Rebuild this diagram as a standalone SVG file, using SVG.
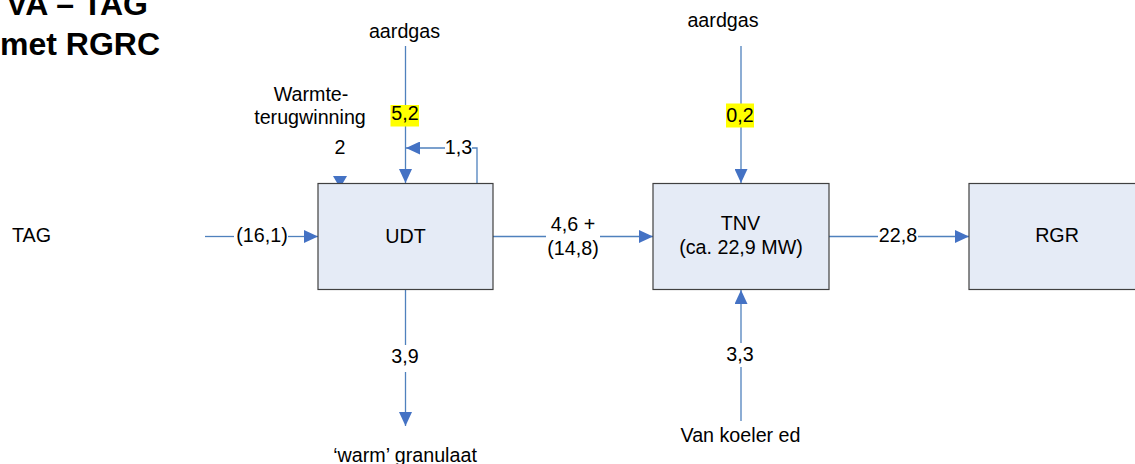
<svg xmlns="http://www.w3.org/2000/svg" width="1135" height="464" viewBox="0 0 1135 464">
<style>
text{font-family:"Liberation Sans",Arial,sans-serif;font-size:19.7px;fill:#000}
.t{font-size:32px;font-weight:bold}
.m{text-anchor:middle}
.box{fill:#E5EBF6;stroke:#404040;stroke-width:1.2}
.c{stroke:#4F81BD;stroke-width:1.3;fill:none}
.hl{fill:#FFFF00}
</style>
<defs>
<marker id="ah" markerUnits="userSpaceOnUse" markerWidth="14" markerHeight="13" refX="14" refY="6.5" orient="auto">
<path d="M0,0 L14,6.5 L0,13 z" fill="#4472C4"/>
</marker>
</defs>
<g id="title">
<text class="t" x="148" y="15" text-anchor="end">VA – TAG</text>
<text class="t" x="160" y="55" text-anchor="end">met RGRC</text>
</g>
<g id="connectors">
<line class="c" x1="205" y1="236.5" x2="234" y2="236.5"/>
<line class="c" x1="288" y1="236.5" x2="318" y2="236.5" marker-end="url(#ah)"/>
<line class="c" x1="493" y1="236.5" x2="546" y2="236.5"/>
<line class="c" x1="600" y1="236.5" x2="653" y2="236.5" marker-end="url(#ah)"/>
<line class="c" x1="829" y1="236.5" x2="878" y2="236.5"/>
<line class="c" x1="918" y1="236.5" x2="969" y2="236.5" marker-end="url(#ah)"/>
<line class="c" x1="405.5" y1="46" x2="405.5" y2="183" marker-end="url(#ah)"/>
<polyline class="c" points="477,183 477,148 472,148"/>
<line class="c" x1="445" y1="148" x2="406" y2="148" marker-end="url(#ah)"/>
<path d="M333,176 L347,176 L340,188 z" fill="#4472C4"/>
<line class="c" x1="741" y1="46" x2="741" y2="183" marker-end="url(#ah)"/>
<line class="c" x1="405.5" y1="290" x2="405.5" y2="345"/>
<line class="c" x1="405.5" y1="372" x2="405.5" y2="426" marker-end="url(#ah)"/>
<line class="c" x1="741" y1="421" x2="741" y2="367"/>
<line class="c" x1="741" y1="343" x2="741" y2="290" marker-end="url(#ah)"/>
<rect class="hl" x="390.5" y="105" width="28.5" height="21.5"/>
<rect class="hl" x="726" y="103.5" width="28" height="24"/>
<text class="m" x="262" y="242">(16,1)</text>
<text class="m" x="573" y="231">4,6 +</text>
<text class="m" x="573" y="255">(14,8)</text>
<text class="m" x="898" y="242">22,8</text>
<text class="m" x="405" y="120">5,2</text>
<text class="m" x="740" y="122">0,2</text>
<text class="m" x="458.5" y="153.5">1,3</text>
<text class="m" x="340" y="154">2</text>
<text class="m" x="405" y="363">3,9</text>
<text class="m" x="740" y="361">3,3</text>
</g>
<g id="udt">
<rect class="box" x="318" y="183.5" width="175" height="106"/>
<text class="m" x="405.5" y="243">UDT</text>
</g>
<g id="tnv">
<rect class="box" x="653" y="183.5" width="176" height="106"/>
<text class="m" x="740.5" y="230">TNV</text>
<text class="m" x="741" y="253.5">(ca. 22,9 MW)</text>
</g>
<g id="rgr">
<rect class="box" x="969" y="183.5" width="200" height="106"/>
<text class="m" x="1057" y="242">RGR</text>
</g>
<g id="tag"><text x="12" y="242">TAG</text></g>
<g id="aardgas1"><text class="m" x="404.5" y="38">aardgas</text></g>
<g id="aardgas2"><text class="m" x="723" y="27">aardgas</text></g>
<g id="wtw">
<text class="m" x="311" y="101">Warmte-</text>
<text class="m" x="310" y="124">terugwinning</text>
</g>
<g id="granulaat"><text class="m" x="405" y="462">‘warm’ granulaat</text></g>
<g id="koeler"><text class="m" x="740.5" y="442">Van koeler ed</text></g>
</svg>
